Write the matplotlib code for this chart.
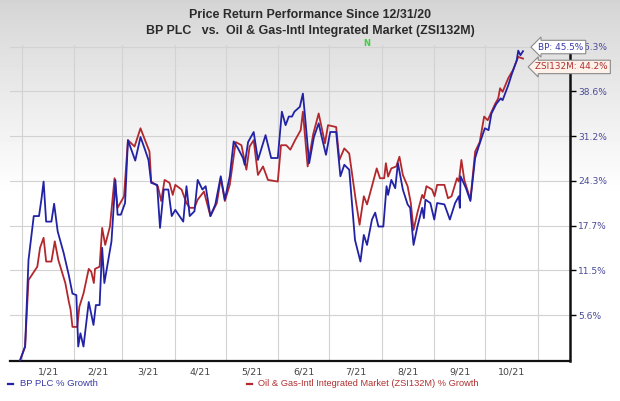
import numpy as np
import pandas as pd
import matplotlib
matplotlib.use("Agg")
import matplotlib.pyplot as plt
import matplotlib.dates as mdates
from matplotlib.lines import Line2D

# ---------------- data ----------------
start_date = "2021-01-01"   # day 0 ; chart starts on 12/31/20

bp_days = [-1, 1.9, 3.9, 7.0, 10.1, 11.6, 12.8, 14.3, 17.4, 19.0,
           21.1, 24.6, 27.7, 29.8, 32.1, 33.2, 34.5, 36.3, 39.4, 42.2,
           43.6, 45.8, 47.3, 48.6, 50.9, 52.8, 55.1, 56.4, 58.3, 60.8,
           62.5, 66.8, 69.9, 72.3, 74.6, 76.2, 79.7, 81.4, 83.6, 86.3,
           88.3, 90.4, 95.1, 97.0, 98.9, 101.7, 103.6, 106.4, 108.3, 111.1,
           114.0, 117.2, 119.6, 122.5, 124.8, 127.4, 130.3, 131.3, 133.3, 136.6,
           139.1, 143.6, 146.9, 150.8, 153.2, 155.4, 157.3, 159.2, 160.6, 163.8,
           165.6, 166.6, 169.3, 172.1, 174.9, 176.7, 179.2, 181.7, 185.2, 187.7,
           190.0, 192.9, 196.3, 199.5, 201.5, 203.4, 206.3, 208.2, 210.1, 213.0,
           214.9, 215.8, 217.7, 220.0, 221.6, 224.5, 227.3, 228.8, 230.8, 233.1,
           235.9, 236.9, 237.8, 240.7, 243.0, 244.7, 249.0, 252.2, 255.3, 257.5,
           258.1, 258.5, 261.7, 264.3, 267.1, 269.2, 272.8, 275.0, 276.7, 279.6,
           282.2, 283.3, 286.6, 288.8, 290.3, 291.6, 292.5, 293.8, 295.3]
bp_growth = [0, 1.65, 12.9, 19.1, 19.1, 21.7, 24.2, 18.3, 18.3, 20.9,
             16.9, 13.9, 10.8, 8.4, 8.2, 1.65, 3.3, 1.65, 7.3, 4.35,
             6.9, 6.9, 14.6, 9.8, 12.9, 15.5, 24.45, 19.3, 19.3, 21.0,
             30.6, 27.4, 31.1, 29.3, 27.5, 24.0, 23.7, 17.4, 23.0, 23.0,
             19.1, 20.0, 18.3, 23.5, 19.1, 19.8, 24.45, 23.0, 23.5, 19.1,
             20.8, 25.0, 21.5, 25.0, 30.4, 29.3, 27.8, 26.75, 30.3, 31.9,
             27.5, 31.4, 27.8, 27.8, 35.2, 33.0, 34.4, 34.4, 35.2, 36.0,
             38.2, 35.2, 27.0, 31.1, 33.3, 31.1, 28.3, 31.9, 31.9, 25.0,
             26.75, 26.0, 15.7, 12.7, 16.4, 15.0, 18.6, 19.6, 17.6, 17.6,
             23.5, 22.2, 24.45, 23.2, 27.0, 23.0, 20.8, 20.3, 15.0, 17.6,
             20.3, 18.8, 21.5, 21.0, 18.6, 21.0, 20.8, 18.6, 21.0, 22.0,
             20.3, 25.0, 23.2, 21.3, 27.8, 29.6, 32.5, 32.2, 34.9, 36.5,
             37.4, 37.1, 39.6, 41.6, 42.8, 43.9, 45.6, 44.8, 45.5]

zsi_days = [-1, 1.9, 3.9, 9.1, 10.7, 12.8, 14.3, 17.4, 19.4, 21.5,
            25.6, 27.7, 28.7, 29.8, 32.6, 33.9, 36.3, 39.4, 40.9, 42.4,
            43.1, 45.8, 47.3, 49.1, 51.9, 54.6, 56.4, 60.2, 62.5, 66.4,
            69.9, 72.3, 75.2, 76.2, 80.1, 82.1, 84.1, 87.0, 88.9, 90.4,
            94.1, 97.0, 98.9, 101.7, 103.6, 107.3, 111.1, 114.9, 117.2, 119.6,
            122.5, 126.0, 129.4, 132.3, 134.2, 136.6, 139.1, 142.1, 145.0, 150.8,
            152.7, 155.8, 158.2, 161.0, 164.3, 165.6, 168.4, 171.7, 174.9, 178.6,
            180.4, 185.2, 187.1, 190.0, 192.9, 196.7, 199.0, 201.5, 203.4, 206.3,
            209.1, 211.0, 213.5, 214.5, 215.8, 217.7, 220.6, 222.5, 224.5, 227.3,
            229.2, 230.8, 233.1, 235.9, 236.9, 238.4, 241.7, 243.2, 244.7, 249.0,
            251.1, 253.2, 256.4, 257.5, 259.0, 260.7, 264.3, 267.1, 269.8, 272.4,
            274.5, 276.3, 278.9, 280.7, 281.8, 283.3, 286.6, 289.4, 290.9, 292.5,
            295.3]
zsi_growth = [0, 1.65, 10.2, 12.0, 14.6, 16.0, 12.7, 12.7, 15.5, 12.9,
              9.8, 7.3, 6.3, 4.1, 4.1, 6.7, 8.4, 11.7, 11.3, 9.8,
              11.7, 12.0, 17.4, 15.0, 17.6, 24.7, 20.3, 22.0, 30.6, 29.6,
              32.5, 30.8, 28.8, 24.2, 23.5, 21.3, 24.45, 24.0, 22.2, 23.7,
              23.0, 21.0, 20.3, 20.3, 21.5, 22.7, 19.1, 21.0, 24.7, 21.3,
              23.7, 30.3, 29.8, 26.0, 29.6, 30.6, 25.2, 26.5, 24.45, 24.2,
              29.8, 29.8, 29.1, 30.6, 32.2, 35.2, 26.5, 31.6, 34.9, 30.1,
              33.0, 32.7, 27.5, 29.3, 28.5, 21.5, 17.85, 22.0, 20.8, 23.5,
              26.2, 24.7, 24.7, 27.0, 24.95, 26.2, 26.5, 28.0, 25.2, 23.5,
              21.0, 17.1, 19.6, 22.2, 21.7, 23.5, 23.0, 22.0, 23.7, 23.7,
              21.7, 22.0, 24.7, 24.2, 27.5, 24.45, 21.5, 28.8, 30.3, 34.4,
              33.8, 34.9, 36.5, 37.4, 39.1, 38.5, 40.8, 42.2, 43.3, 44.5,
              44.2]

ytick_values = [5.6, 11.5, 17.7, 24.3, 31.2, 38.6, 46.3]
month_labels = ["1/21", "2/21", "3/21", "4/21", "5/21", "6/21",
                "7/21", "8/21", "9/21", "10/21"]
bp_last_label = "BP: 45.5%"
zsi_last_label = "ZSI132M: 44.2%"
title1 = "Price Return Performance Since 12/31/20"
title2 = "BP PLC   vs.  Oil & Gas-Intl Integrated Market (ZSI132M)"
legend_bp = "BP PLC % Growth"
legend_zsi = "Oil & Gas-Intl Integrated Market (ZSI132M) % Growth"

# ---------------- styling ----------------
BLUE = "#2222a6"
RED = "#b3282c"
W, H = 620, 401

fig = plt.figure(figsize=(W / 100, H / 100), dpi=100)

# background gradient (light gray at top -> white)
bg = fig.add_axes([0, 0, 1, 1], zorder=-10)
rows = np.arange(H)
shade = np.clip(0.83 + 0.17 * (rows / 195.0) ** 0.9, 0, 1)
bg.imshow(shade[:, None], cmap="gray", vmin=0, vmax=1, aspect="auto",
          extent=[0, 1, 0, 1], origin="upper")
bg.axis("off")

ax = fig.add_axes([10 / W, 40 / H, 560 / W, 316 / H])
ax.patch.set_alpha(0)

base = pd.Timestamp(start_date)
bp_dates = base + pd.to_timedelta(bp_days, unit="D")
zsi_dates = base + pd.to_timedelta(zsi_days, unit="D")

ax.set_yscale("log")
ax.plot(zsi_dates, 100 + np.array(zsi_growth), color=RED, lw=1.3, zorder=4)
ax.plot(bp_dates, 100 + np.array(bp_growth), color=BLUE, lw=1.3, zorder=5)

ax.set_ylim(99.88, 146.6)
ax.set_xlim(pd.Timestamp("2020-12-25"), pd.Timestamp("2021-11-20"))

# y ticks on right
ax.yaxis.tick_right()
ax.yaxis.set_major_locator(matplotlib.ticker.FixedLocator([100 + v for v in ytick_values]))
ax.yaxis.set_minor_locator(matplotlib.ticker.NullLocator())
ax.set_yticklabels([f"{v:.1f}%" for v in ytick_values])
ax.tick_params(axis="y", which="major", length=4, width=1, color="black",
               labelsize=6.6, labelcolor="#4a4a98", pad=2)

# x: gridlines at month starts, labels at mid-month
month_starts = pd.date_range("2021-01-01", "2021-11-01", freq="MS")
mids = [month_starts[i] + (month_starts[i + 1] - month_starts[i]) / 2
        for i in range(len(month_starts) - 1)]
ax.xaxis.set_major_locator(matplotlib.ticker.FixedLocator(mdates.date2num(month_starts)))
ax.xaxis.set_minor_locator(matplotlib.ticker.FixedLocator(mdates.date2num(mids)))
ax.xaxis.set_major_formatter(matplotlib.ticker.NullFormatter())
ax.xaxis.set_minor_formatter(matplotlib.ticker.FixedFormatter(month_labels))
ax.tick_params(axis="x", which="both", length=0, labelsize=6.8,
               labelcolor="#444444", pad=5)

ax.grid(True, axis="x", which="major", color="#d2d2d2", lw=0.8)
ax.grid(True, axis="y", which="major", color="#d2d2d2", lw=0.8)
ax.set_axisbelow(True)

for s in ["left", "top"]:
    ax.spines[s].set_visible(False)
ax.spines["bottom"].set_color("#111111")
ax.spines["bottom"].set_linewidth(1.6)
ax.spines["right"].set_color("#111111")
ax.spines["right"].set_linewidth(1.8)

# end labels
ax.annotate(bp_last_label, xy=(bp_dates[-1], 100 + bp_growth[-1]),
            xytext=(11, 3), textcoords="offset points", va="center", ha="left",
            fontsize=6.4, color="#3a3aa8", zorder=10, annotation_clip=False,
            bbox=dict(boxstyle="larrow,pad=0.25", fc="white", ec="#8a8a8a", lw=0.8))
ax.annotate(zsi_last_label, xy=(zsi_dates[-1], 100 + zsi_growth[-1]),
            xytext=(9, -6), textcoords="offset points", va="center", ha="left",
            fontsize=6.4, color="#b03030", zorder=10, annotation_clip=False,
            bbox=dict(boxstyle="larrow,pad=0.25", fc="#fdf1ea", ec="#8a8a8a", lw=0.8))

# titles
title_font = ["Liberation Sans", "DejaVu Sans"]
fig.text(310 / W, 1 - 15 / H, title1, ha="center", va="center", fontsize=8.9,
         fontweight="bold", color="#2b2b2b", family=title_font)
fig.text(310 / W, 1 - 31 / H, title2, ha="center", va="center", fontsize=8.9,
         fontweight="bold", color="#2b2b2b", family=title_font)
fig.text(367 / W, 1 - 43 / H, "N", ha="center", va="center", fontsize=6,
         fontweight="bold", color="#44cc44")

# legend
leg_font = ["Liberation Sans", "DejaVu Sans"]
fig.add_artist(Line2D([8 / W, 13 / W], [1 - 384 / H] * 2, color=BLUE, lw=1.6))
fig.text(20 / W, 1 - 384 / H, legend_bp, ha="left", va="center", fontsize=6.8,
         color="#3a3aa8", family=leg_font)
fig.add_artist(Line2D([247 / W, 252 / W], [1 - 384 / H] * 2, color=RED, lw=1.6))
fig.text(258 / W, 1 - 384 / H, legend_zsi, ha="left", va="center", fontsize=6.7,
         color="#b03030", family=leg_font)

fig.savefig("out.png", dpi=100)
